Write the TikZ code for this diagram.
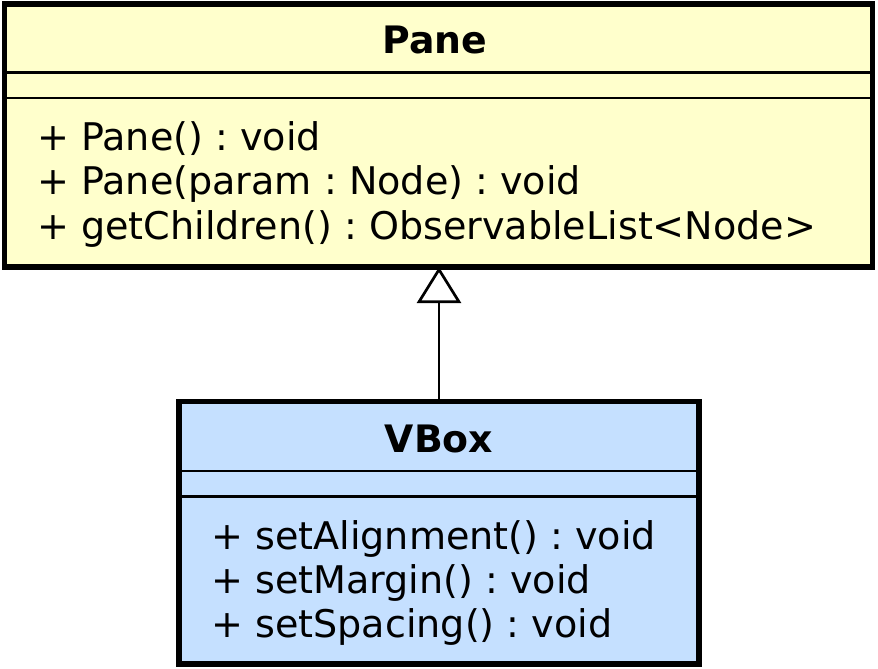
\documentclass[tikz,border=0pt]{standalone}
\usepackage{fontspec}
\setmainfont{DejaVu Sans}
\usetikzlibrary{arrows.meta}
\frenchspacing
\definecolor{paneyellow}{RGB}{255,255,204}
\definecolor{vboxblue}{RGB}{197,224,255}
\tikzset{
  classbox/.style={draw=black, line width=5.5pt, inner sep=0pt, outer sep=0pt},
  sepline/.style={draw=black, line width=2.5pt},
  member/.style={anchor=base west, inner sep=0pt, font=\fontsize{38.1pt}{44pt}\selectfont\frenchspacing},
  title/.style={anchor=base, inner sep=0pt, font=\fontsize{37.8pt}{44pt}\selectfont\bfseries},
  inherit/.style={draw=black, line width=2.7pt, -{Triangle[open, length=36pt, width=44pt]}}
}
\begin{document}
\begin{tikzpicture}[x=1pt,y=1pt]
\useasboundingbox (0,0) rectangle (878,-669);
% Pane class
\node[classbox, fill=paneyellow, minimum width=868pt, minimum height=263pt] (pane) at (438.5,-135.5) {};
\draw[sepline] (pane.west |- 0,-72.5) -- (pane.east |- 0,-72.5);
\draw[sepline] (pane.west |- 0,-98) -- (pane.east |- 0,-98);
\node[title] (panetitle) at (435,-54) {Pane};
\node[member] (pm1) at (37,-150) {+ Pane() : void};
\node[member] (pm2) at (37,-194.5) {+ Pane(param : Node) : void};
\node[member] (pm3) at (37,-239) {+ getChildren() : ObservableList<Node>};
% VBox class
\node[classbox, fill=vboxblue, minimum width=520pt, minimum height=262.5pt] (vbox) at (439,-532.75) {};
\draw[sepline] (vbox.west |- 0,-471) -- (vbox.east |- 0,-471);
\draw[sepline] (vbox.west |- 0,-496.5) -- (vbox.east |- 0,-496.5);
\node[title] (vboxtitle) at (439,-452) {VBox};
\node[member] (vm1) at (211,-549) {+ setAlignment() : void};
\node[member] (vm2) at (211,-593) {+ setMargin() : void};
\node[member] (vm3) at (211,-637.5) {+ setSpacing() : void};
% inheritance
\draw[inherit] (vbox.north) -- (vbox.north |- pane.south);
\end{tikzpicture}
\end{document}
